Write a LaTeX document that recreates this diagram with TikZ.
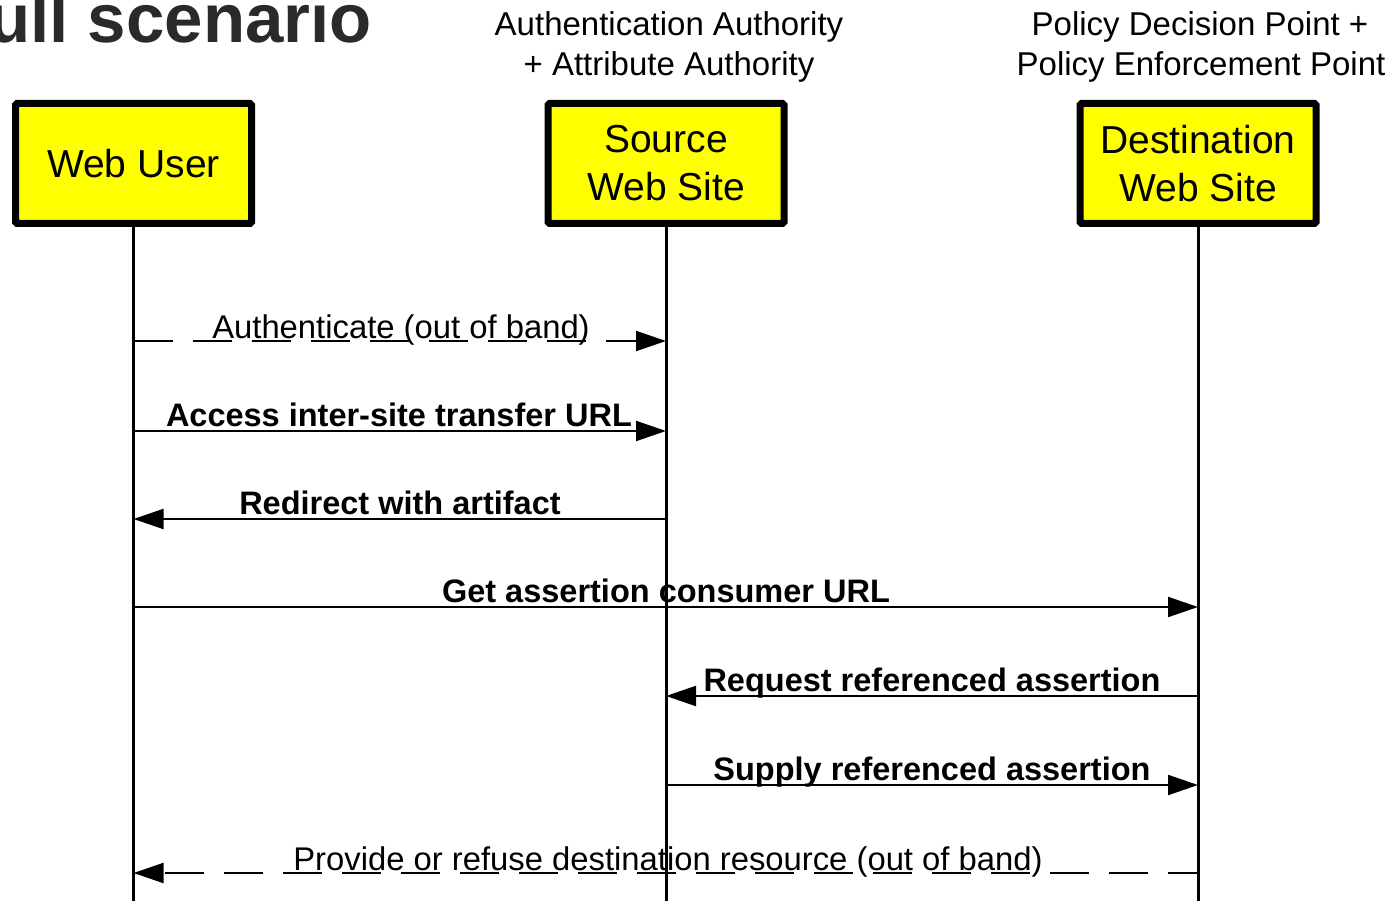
\documentclass[tikz,border=0pt]{standalone}
\usepackage{fontspec}
\setmainfont{Liberation Sans}
\usetikzlibrary{arrows.meta}
\definecolor{titlegray}{HTML}{2A2A2A}
\definecolor{boxyellow}{HTML}{FFFF00}
\tikzset{
  actor/.style={draw=black, line width=7pt, fill=boxyellow, rounded corners=1.5pt,
    minimum width=236pt, minimum height=120pt, align=center,
    font=\fontsize{39}{48}\selectfont, inner sep=0pt},
  role/.style={align=center, font=\fontsize{33}{40}\selectfont, anchor=base},
  lifeline/.style={line width=3pt},
  msg/.style={line width=2pt, -{Triangle[length=30pt,width=20pt]}},
  oob/.style={msg, dash pattern=on 39pt off 20pt},
  boldlbl/.style={font=\bfseries\fontsize{32.5}{38}\selectfont, anchor=base, inner sep=0pt},
  plainlbl/.style={font=\fontsize{32.8}{38}\selectfont, anchor=base, inner sep=0pt},
}
\begin{document}
\begin{tikzpicture}[x=1pt, y=-1pt]
  \useasboundingbox (0,0) rectangle (1392,901);
  \clip (0,0) rectangle (1392,901);

  % title, running off the left edge
  \node[anchor=base east, inner sep=0pt, text=titlegray,
        font=\bfseries\fontsize{69}{80}\selectfont] (title) at (372,43) {Full scenario};

  % role captions
  \node[role] (roleA1) at (669,36) {Authentication Authority};
  \node[role] (roleA2) at (669,76) {+ Attribute Authority};
  \node[role] (roleB1) at (1200,36) {Policy Decision Point +};
  \node[role] (roleB2) at (1201,76) {Policy Enforcement Point};

  % participants
  \node[actor] (wu)  at (133.5,163.5) {Web User};
  \node[actor] (src) at (666,163.5) {Source\\Web Site};
  \node[actor] (dst) at (1198,163.5) {Destination\\Web Site};

  % lifelines
  \coordinate (wuEnd)  at (133.5,901);
  \coordinate (srcEnd) at (666,901);
  \coordinate (dstEnd) at (1198,901);
  \draw[lifeline] (wu.south)  -- (wuEnd);
  \draw[lifeline] (src.south) -- (srcEnd);
  \draw[lifeline] (dst.south) -- (dstEnd);

  % message anchors on the lifelines
  \foreach \n/\y in {1/341,2/431,3/519,4/607,5/696,6/785,7/873} {
    \coordinate (wu\n)  at (133.5,\y);
    \coordinate (src\n) at (666,\y);
    \coordinate (dst\n) at (1198,\y);
  }

  % messages
  \node[plainlbl] (m1) at (401,338) {Authenticate (out of band)};
  \draw[oob] (wu1) -- (src1);

  \node[boldlbl] (m2) at (399,426) {Access inter-site transfer URL};
  \draw[msg] (wu2) -- (src2);

  \node[boldlbl] (m3) at (400,514) {Redirect with artifact};
  \draw[msg] (src3) -- (wu3);

  \node[boldlbl] (m4) at (666,602) {Get assertion consumer URL};
  \draw[msg] (wu4) -- (dst4);

  \node[boldlbl] (m5) at (932,691) {Request referenced assertion};
  \draw[msg] (dst5) -- (src5);

  \node[boldlbl] (m6) at (932,780) {Supply referenced assertion};
  \draw[msg] (src6) -- (dst6);

  \node[plainlbl] (m7) at (668,870) {Provide or refuse destination resource (out of band)};
  \draw[oob, dash phase=9pt] (dst7) -- (wu7);
\end{tikzpicture}
\end{document}
